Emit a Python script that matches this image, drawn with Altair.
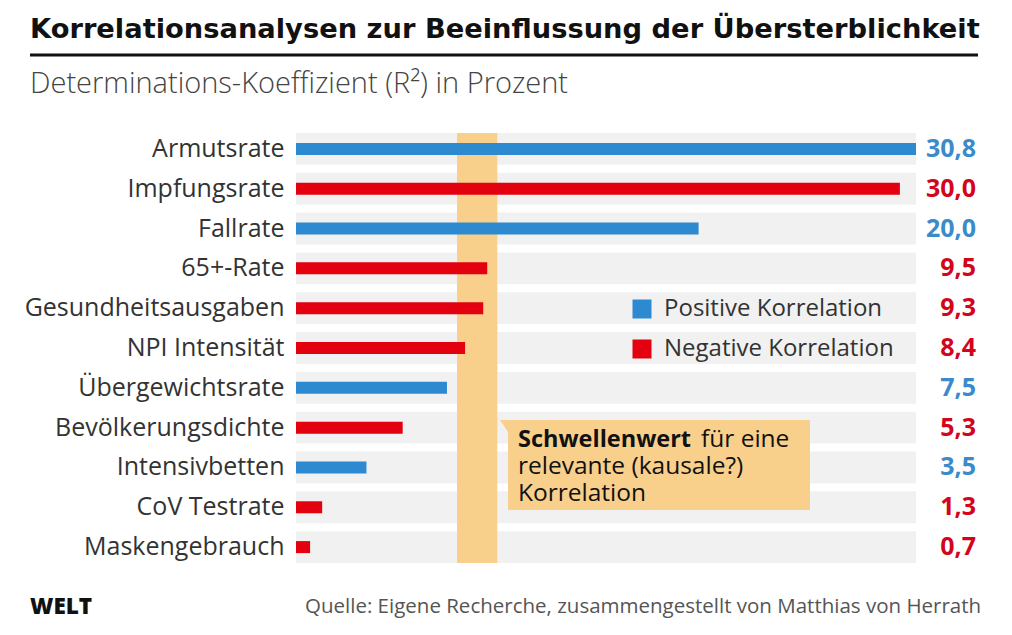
import altair as alt
import pandas as pd

# ---- data ----
categories = ["Armutsrate", "Impfungsrate", "Fallrate", "65+-Rate", "Gesundheitsausgaben",
              "NPI Intensität", "Übergewichtsrate", "Bevölkerungsdichte", "Intensivbetten",
              "CoV Testrate", "Maskengebrauch"]
values = [30.8, 30.0, 20.0, 9.5, 9.3, 8.4, 7.5, 5.3, 3.5, 1.3, 0.7]
kinds = ["Positive Korrelation", "Negative Korrelation", "Positive Korrelation",
         "Negative Korrelation", "Negative Korrelation", "Negative Korrelation",
         "Positive Korrelation", "Negative Korrelation", "Positive Korrelation",
         "Negative Korrelation", "Negative Korrelation"]
threshold_low = [8.0]
threshold_high = [10.0]
legend_labels = ["Positive Korrelation", "Negative Korrelation"]

title_text = "Korrelationsanalysen zur Beeinflussung der Übersterblichkeit"
subtitle_text = "Determinations-Koeffizient (R²) in Prozent"
note_bold = "Schwellenwert"
note_first = "für eine"
note_rest = ["relevante (kausale?)", "Korrelation"]
source_text = "Quelle: Eigene Recherche, zusammengestellt von Matthias von Herrath"
logo_text = "WELT"

BLUE = "#2e8ad0"
RED = "#e3000f"
BLUE_T = "#3a8bcb"
RED_T = "#d3041c"
ORANGE = "#f9cf8c"
GRAY = "#f1f1f1"
FONT = "Open Sans"

W, H = 620, 438

df = pd.DataFrame({"cat": categories, "value": values, "kind": kinds})

yenc = alt.Y("cat:N", sort=categories,
             scale=alt.Scale(paddingInner=0.2, paddingOuter=0.1),
             axis=alt.Axis(title=None, ticks=False, domain=False, labelFontSize=25,
                           labelFont=FONT, labelColor="#333333", labelPadding=12,
                           labelLimit=400))
xscale = alt.Scale(domain=[0, 30.8], nice=False, zero=True)

rows = alt.Chart(df).mark_rect(color=GRAY).encode(
    y=yenc, x=alt.value(0), x2=alt.value(W))

band = alt.Chart(pd.DataFrame({"lo": threshold_low, "hi": threshold_high})).mark_rect(
    color=ORANGE).encode(
    x=alt.X("lo:Q", scale=xscale, axis=None), x2="hi:Q",
    y=alt.value(4), y2=alt.value(H - 4))

bars = alt.Chart(df).mark_bar(size=12).encode(
    y=yenc,
    x=alt.X("value:Q", scale=xscale, axis=None),
    color=alt.Color("kind:N",
                    scale=alt.Scale(domain=legend_labels, range=[BLUE, RED]),
                    legend=alt.Legend(title=None, orient="none", legendX=334, legendY=168,
                                      symbolType="square", symbolSize=361,
                                      symbolStrokeWidth=0, labelFontSize=24,
                                      labelFont=FONT, labelColor="#333333",
                                      labelOffset=10, rowPadding=16, padding=0,
                                      labelLimit=400)))

vals = alt.Chart(df).transform_calculate(
    lab="replace(format(datum.value, '.1f'), '.', ',')"
).mark_text(align="right", baseline="middle", fontSize=25, fontWeight="bold", font=FONT).encode(
    y=yenc, x=alt.value(680), text="lab:N",
    color=alt.condition(alt.datum.kind == "Positive Korrelation", alt.value(BLUE_T), alt.value(RED_T)))


def txt(s, x, y, size, weight="normal", color="#222222", font=FONT, align="left",
        baseline="alphabetic"):
    return alt.Chart(pd.DataFrame({"t": [s]})).mark_text(
        fontSize=size, fontWeight=weight, color=color, font=font, align=align,
        baseline=baseline).encode(text="t:N", x=alt.value(x), y=alt.value(y))


note_box = alt.Chart(pd.DataFrame({"a": [0]})).mark_rect(color=ORANGE).encode(
    x=alt.value(212), x2=alt.value(514), y=alt.value(291), y2=alt.value(381))

note_notch = alt.Chart(pd.DataFrame({"a": [0]})).mark_point(
    shape="M -1 -1.5 L 1 -1.5 L 1 1.5 Z", filled=True, color=ORANGE, opacity=1,
    size=64).encode(x=alt.value(208), y=alt.value(297))

note_block = alt.Chart(pd.DataFrame({"a": [0]})).mark_text(
    text=note_rest, lineHeight=27, fontSize=24.5, font=FONT, color="#111111",
    align="left", baseline="middle").encode(x=alt.value(222), y=alt.value(338))

title_rule = alt.Chart(pd.DataFrame({"a": [0]})).mark_rule(color="#111111", strokeWidth=3).encode(
    x=alt.value(-266), x2=alt.value(682), y=alt.value(-74))

layers = [
    rows, band, bars, vals, note_box, note_notch,
    txt(note_bold, 222, 311, 23.5, "bold", "#111111", baseline="middle"),
    txt(note_first, 405, 311, 24.5, "normal", "#111111", baseline="middle"),
    note_block,
    txt(title_text, -266, -91, 27.3, "bold", "#111111", font="DejaVu Sans"),
    title_rule,
    txt(subtitle_text, -266, -36, 29, 300, "#444444"),
    txt(logo_text, -266, 478, 22.5, 800, "#111111", baseline="middle"),
    txt(source_text, 9, 478, 20.5, "normal", "#555555", baseline="middle"),
]

chart = alt.layer(*layers).properties(
    width=W, height=H,
    padding={"left": 288, "top": 121, "right": 88, "bottom": 60},
    autosize=alt.AutoSizeParams(type="none"),
    background="white",
).configure_view(stroke=None)

chart.save("out.html", embed_options={"renderer": "svg", "actions": False})
